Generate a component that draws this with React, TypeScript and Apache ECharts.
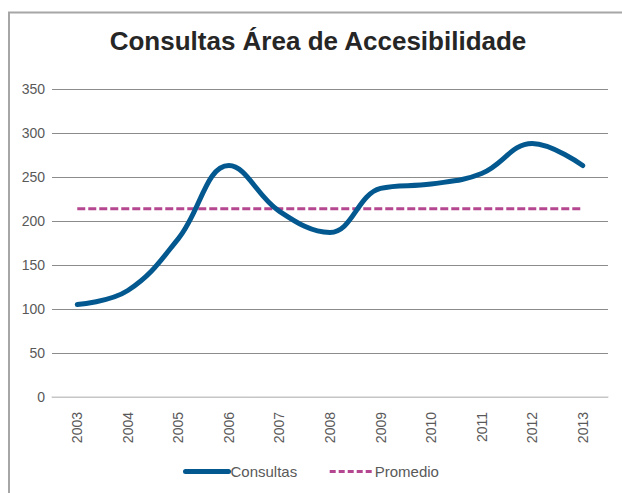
import React, { useEffect, useRef } from "react";
import * as echarts from "echarts";

const titleText = "Consultas Área de Accesibilidade";
const years = ["2003", "2004", "2005", "2006", "2007", "2008", "2009", "2010", "2011", "2012", "2013"];
const consultas = [105, 121, 180, 263, 211, 187, 237, 242, 254, 288, 263];
const promedio = [214, 214, 214, 214, 214, 214, 214, 214, 214, 214, 214];
const seriesNames = ["Consultas", "Promedio"];

export default function App() {
  const ref = useRef<HTMLDivElement>(null);
  useEffect(() => {
    if (!ref.current) return;
    const chart = echarts.init(ref.current, null, { renderer: "svg" });
    const font = "'Liberation Sans', Arial, sans-serif";
    const blue = "#03598f";
    const pink = "#b4478f";
    chart.setOption({
      animation: false,
      backgroundColor: "#ffffff",
      textStyle: { fontFamily: font },
      graphic: [
        {
          type: "rect",
          shape: { x: 9, y: 12.5, width: 700, height: 600 },
          style: { fill: "none", stroke: "#a6a6a6", lineWidth: 2 },
          silent: true,
        },
        {
          type: "text",
          x: 318,
          y: 41,
          style: {
            text: titleText,
            font: `bold 26px ${font}`,
            fill: "#262626",
            align: "center",
            verticalAlign: "middle",
          },
        },
      ],
      grid: { left: 52, right: 14, top: 89, bottom: 96 },
      legend: {
        left: 183,
        top: 464,
        padding: 0,
        itemWidth: 43,
        itemHeight: 14,
        itemGap: 31,
        data: [
          { name: seriesNames[0], lineStyle: { width: 5, color: blue, cap: "round" } },
          { name: seriesNames[1], lineStyle: { width: 3, color: pink, type: [6, 3] } },
        ],
        itemStyle: { opacity: 0 },
        textStyle: { fontSize: 15, color: "#595959", fontFamily: font, padding: [0, 0, 0, -3] },
      },
      xAxis: {
        type: "category",
        data: years,
        boundaryGap: true,
        axisTick: { show: false },
        axisLine: { show: true, lineStyle: { color: "#d9d9d9", width: 1.5 } },
        axisLabel: { rotate: 90, fontSize: 14, color: "#595959", margin: 15, fontFamily: font },
      },
      yAxis: {
        type: "value",
        min: 0,
        max: 350,
        interval: 50,
        axisLine: { show: false },
        axisTick: { show: false },
        axisLabel: { fontSize: 14, color: "#595959", margin: 7, fontFamily: font },
        splitLine: { lineStyle: { color: "#8c8c8c", width: 1 } },
      },
      series: [
        {
          name: seriesNames[0],
          type: "line",
          data: consultas,
          smooth: 0.4,
          symbol: "none",
          lineStyle: { color: blue, width: 5, cap: "round" },
          itemStyle: { color: blue },
          z: 3,
        },
        {
          name: seriesNames[1],
          type: "line",
          data: promedio,
          symbol: "none",
          lineStyle: { color: pink, width: 3, type: [8, 3] },
          itemStyle: { color: pink },
          z: 2,
        },
      ],
    });
    return () => chart.dispose();
  }, []);
  return (
    <div
      ref={ref}
      style={{ position: "fixed", left: 0, top: 0, width: 622, height: 493 }}
    />
  );
}
